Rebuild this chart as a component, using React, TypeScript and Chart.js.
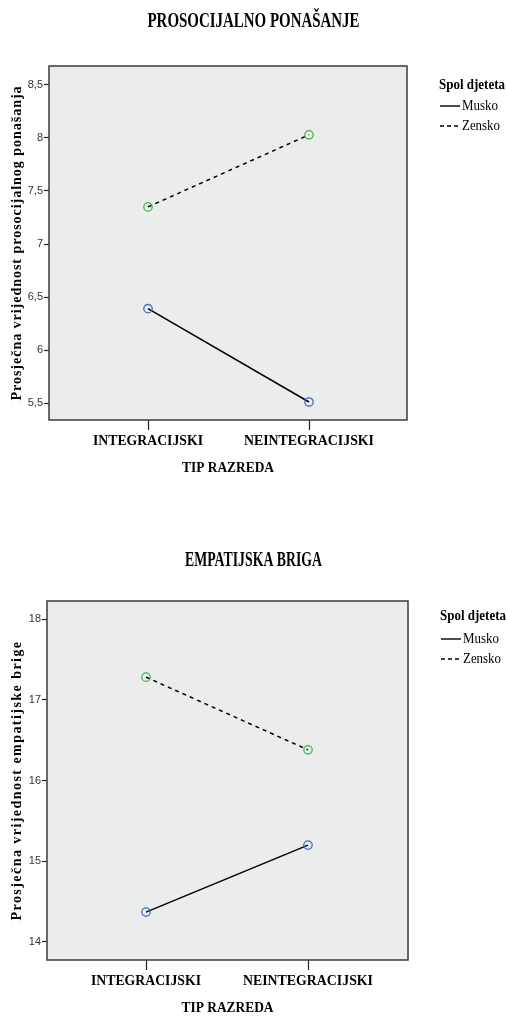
import React, { useEffect, useRef } from "react";
import { Chart, registerables } from "chart.js";

Chart.register(...registerables);

// ---- data ----
const categories = ["INTEGRACIJSKI", "NEINTEGRACIJSKI"];
const seriesNames = ["Musko", "Zensko"];
const legendTitle = "Spol djeteta";
const xAxisTitle = "TIP RAZREDA";

const prosocTitle = "PROSOCIJALNO PONAŠANJE";
const prosocYTitle = "Prosječna vrijednost prosocijalnog ponašanja";
const prosocMusko = [6.39, 5.51];
const prosocZensko = [7.35, 8.03];
const prosocTicks = [5.5, 6, 6.5, 7, 7.5, 8, 8.5];

const empatTitle = "EMPATIJSKA BRIGA";
const empatYTitle = "Prosječna vrijednost empatijske brige";
const empatMusko = [14.37, 15.2];
const empatZensko = [17.28, 16.38];
const empatTicks = [14, 15, 16, 17, 18];

// ---- styling ----
const SERIF = "'Liberation Serif', 'Times New Roman', serif";
const SANS_N = "'Liberation Sans Narrow', 'Arial Narrow', 'Liberation Sans', Arial, sans-serif";
const BG = "#ebecec";
const FRAME = "#3a3a3a";
const BLUE = "#3d6ec6";
const GREEN = "#3db553";

type Spec = {
  height: number;
  area: { left: number; right: number; top: number; bottom: number };
  yMin: number;
  yMax: number;
  ticks: number[];
  musko: number[];
  zensko: number[];
  title: string;
  titleY: number;
  titleW: number;
  yTitle: string;
  yTitleW: number;
  yTitleX: number;
  legendY: number[];
  catPx: number[];
};

const spec1: Spec = {
  height: 500,
  area: { left: 49, right: 407, top: 66, bottom: 420 },
  yMin: 5.34,
  yMax: 8.679,
  ticks: prosocTicks,
  musko: prosocMusko,
  zensko: prosocZensko,
  title: prosocTitle,
  titleY: 22,
  titleW: 212,
  yTitle: prosocYTitle,
  yTitleW: 315,
  yTitleX: 17,
  legendY: [85, 106, 126],
  catPx: [148, 309],
};

const spec2: Spec = {
  height: 516,
  area: { left: 47, right: 408, top: 101, bottom: 460 },
  yMin: 13.777,
  yMax: 18.223,
  ticks: empatTicks,
  musko: empatMusko,
  zensko: empatZensko,
  title: empatTitle,
  titleY: 61,
  titleW: 137,
  yTitle: empatYTitle,
  yTitleW: 280,
  yTitleX: 17,
  legendY: [116, 139, 159],
  catPx: [146, 308],
};

function fitText(
  ctx: CanvasRenderingContext2D,
  s: string,
  x: number,
  y: number,
  target?: number
) {
  const anyCtx = ctx as any;
  anyCtx.letterSpacing = "0px";
  if (target) {
    const w = ctx.measureText(s).width;
    if (w > target) {
      ctx.fillText(s, x, y, target);
      return;
    }
    if (w < target && s.length > 1) {
      anyCtx.letterSpacing = (target - w) / s.length + "px";
    }
  }
  ctx.fillText(s, x, y);
  anyCtx.letterSpacing = "0px";
}

function makeDecor(spec: Spec) {
  return {
    id: "decor",
    beforeDraw(chart: any) {
      const { ctx, chartArea: a } = chart;
      ctx.save();
      ctx.fillStyle = BG;
      ctx.fillRect(a.left, a.top, a.right - a.left, a.bottom - a.top);
      ctx.restore();
    },
    afterDraw(chart: any) {
      const { ctx, chartArea: a } = chart;
      const xs = chart.scales.x;
      ctx.save();
      // frame
      ctx.strokeStyle = FRAME;
      ctx.lineWidth = 1.5;
      ctx.strokeRect(a.left, a.top, a.right - a.left, a.bottom - a.top);

      ctx.fillStyle = "#000";
      ctx.textBaseline = "middle";

      // title
      ctx.textAlign = "center";
      ctx.font = `bold 20px ${SERIF}`;
      fitText(ctx, spec.title, chart.width / 2, spec.titleY, spec.titleW);

      // x tick labels
      ctx.font = `bold 14px ${SERIF}`;
      categories.forEach((c, i) => {
        fitText(ctx, c, xs.getPixelForValue(i), a.bottom + 21, i === 0 ? 110 : 130);
      });
      // x axis title
      fitText(ctx, xAxisTitle, (a.left + a.right) / 2, a.bottom + 48, 92);

      // y axis title
      ctx.save();
      ctx.translate(spec.yTitleX, (a.top + a.bottom) / 2);
      ctx.rotate(-Math.PI / 2);
      ctx.font = `bold 14px ${SERIF}`;
      fitText(ctx, spec.yTitle, 0, 0, spec.yTitleW);
      ctx.restore();

      // legend
      const lx = a.right + 32;
      ctx.textAlign = "left";
      ctx.font = `bold 15px ${SERIF}`;
      fitText(ctx, legendTitle, lx, spec.legendY[0], 66);
      ctx.font = `14px ${SERIF}`;
      seriesNames.forEach((n, i) => {
        const y = spec.legendY[i + 1];
        ctx.beginPath();
        ctx.strokeStyle = "#000";
        ctx.lineWidth = 1.4;
        ctx.setLineDash(i === 0 ? [] : [4, 3]);
        ctx.moveTo(lx + 1, y);
        ctx.lineTo(lx + 21, y);
        ctx.stroke();
        ctx.setLineDash([]);
        fitText(ctx, n, lx + 23, y, i === 0 ? 36 : 38);
      });
      ctx.restore();
    },
  };
}

function ChartPanel({ spec }: { spec: Spec }) {
  const ref = useRef<HTMLCanvasElement | null>(null);
  useEffect(() => {
    if (!ref.current) return;
    const a = spec.area;
    const span = spec.catPx[1] - spec.catPx[0];
    const xMin = -(spec.catPx[0] - a.left) / span;
    const xMax = 1 + (a.right - spec.catPx[1]) / span;
    const pts = (arr: number[]) => arr.map((v, i) => ({ x: i, y: v }));
    const chart = new Chart(ref.current, {
      type: "line",
      data: {
        datasets: [
          {
            label: seriesNames[0],
            data: pts(spec.musko),
            borderColor: "#000",
            borderWidth: 1.5,
            pointStyle: "circle",
            pointRadius: 4.2,
            pointBorderWidth: 1.3,
            pointBorderColor: BLUE,
            pointBackgroundColor: "rgba(0,0,0,0)",
            fill: false,
          },
          {
            label: seriesNames[1],
            data: pts(spec.zensko),
            borderColor: "#000",
            borderWidth: 1.5,
            borderDash: [4, 4],
            pointStyle: "circle",
            pointRadius: 4.2,
            pointBorderWidth: 1.3,
            pointBorderColor: GREEN,
            pointBackgroundColor: "rgba(0,0,0,0)",
            fill: false,
          },
        ],
      },
      options: {
        animation: false,
        responsive: true,
        maintainAspectRatio: false,
        layout: {
          padding: { left: 0, top: a.top, right: 507 - a.right, bottom: 0 },
        },
        plugins: {
          legend: { display: false },
          tooltip: { enabled: false },
          title: { display: false },
        },
        scales: {
          x: {
            type: "linear",
            min: xMin,
            max: xMax,
            afterBuildTicks: (s: any) => {
              s.ticks = categories.map((_, i) => ({ value: i }));
            },
            afterFit: (s: any) => {
              s.height = spec.height - a.bottom;
            },
            ticks: { display: false },
            grid: {
              drawOnChartArea: false,
              drawTicks: true,
              tickLength: 10,
              tickColor: "#222",
              tickWidth: 1.2,
            },
            border: { display: false },
          },
          y: {
            type: "linear",
            min: spec.yMin,
            max: spec.yMax,
            afterBuildTicks: (s: any) => {
              s.ticks = spec.ticks.map((v) => ({ value: v }));
            },
            afterFit: (s: any) => {
              s.width = a.left;
            },
            ticks: {
              padding: 1,
              color: "#333",
              font: { family: SANS_N, size: 11 },
              callback: (v: any) => String(v).replace(".", ","),
            },
            grid: {
              drawOnChartArea: false,
              drawTicks: true,
              tickLength: 5,
              tickColor: "#222",
              tickWidth: 1.2,
            },
            border: { display: false },
          },
        },
      },
      plugins: [makeDecor(spec)],
    } as any);
    return () => chart.destroy();
  }, [spec]);
  return (
    <div style={{ position: "relative", width: 507, height: spec.height }}>
      <canvas ref={ref} />
    </div>
  );
}

export default function App() {
  return (
    <div
      style={{
        position: "absolute",
        left: 0,
        top: 0,
        width: 507,
        height: 1016,
        background: "#fff",
        overflow: "hidden",
      }}
    >
      <ChartPanel spec={spec1} />
      <ChartPanel spec={spec2} />
    </div>
  );
}
